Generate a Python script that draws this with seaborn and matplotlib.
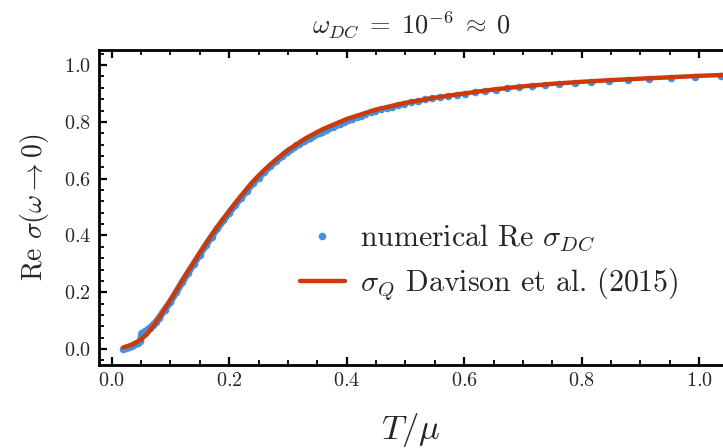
import numpy as np
import pandas as pd
import matplotlib
matplotlib.use("Agg")
import matplotlib.pyplot as plt
from matplotlib.lines import Line2D
from matplotlib.ticker import MultipleLocator, FormatStrFormatter
import seaborn as sns

# ---- data ----
# numerical points (dense low-T part)
T_dense = [0.020, 0.025, 0.030, 0.035, 0.040, 0.045, 0.049, 0.051, 0.055, 0.060,
           0.065, 0.070, 0.075, 0.080, 0.090, 0.100, 0.110, 0.120, 0.130, 0.140,
           0.150, 0.160, 0.170, 0.180, 0.190, 0.200, 0.210, 0.220, 0.230, 0.240,
           0.250, 0.260, 0.270, 0.280, 0.290, 0.298]
sig_dense = [0.000, 0.004, 0.008, 0.012, 0.017, 0.022, 0.028, 0.055, 0.060, 0.066,
             0.075, 0.084, 0.095, 0.108, 0.138, 0.167, 0.201, 0.235, 0.269, 0.301,
             0.333, 0.365, 0.396, 0.425, 0.453, 0.480, 0.507, 0.533, 0.558, 0.583,
             0.604, 0.625, 0.644, 0.662, 0.679, 0.693]
# numerical points (sparse high-T part)
T_sparse = [0.302, 0.306, 0.310, 0.314, 0.319, 0.323, 0.328, 0.332, 0.337, 0.342,
            0.348, 0.353, 0.358, 0.364, 0.370, 0.376, 0.382, 0.389, 0.395, 0.402,
            0.409, 0.417, 0.424, 0.432, 0.441, 0.449, 0.458, 0.468, 0.477, 0.487,
            0.498, 0.509, 0.521, 0.533, 0.545, 0.559, 0.572, 0.587, 0.602, 0.619,
            0.636, 0.654, 0.673, 0.693, 0.715, 0.738, 0.762, 0.788, 0.816, 0.846,
            0.879, 0.914, 0.952, 0.993, 1.037]
sig_sparse = [0.700, 0.706, 0.711, 0.717, 0.723, 0.728, 0.734, 0.739, 0.744, 0.750,
              0.756, 0.761, 0.766, 0.772, 0.777, 0.783, 0.788, 0.794, 0.799, 0.805,
              0.810, 0.816, 0.821, 0.827, 0.833, 0.838, 0.844, 0.849, 0.854, 0.859,
              0.864, 0.869, 0.874, 0.879, 0.883, 0.887, 0.891, 0.895, 0.899, 0.904,
              0.908, 0.913, 0.918, 0.922, 0.926, 0.930, 0.934, 0.937, 0.941, 0.944,
              0.948, 0.951, 0.955, 0.959, 0.963]
# sigma_Q curve (Davison et al. 2015)
T_curve = [0.020, 0.030, 0.040, 0.050, 0.060, 0.070, 0.080, 0.090, 0.100, 0.110,
           0.120, 0.130, 0.140, 0.150, 0.160, 0.170, 0.180, 0.190, 0.200, 0.210,
           0.220, 0.230, 0.240, 0.250, 0.260, 0.270, 0.280, 0.290, 0.300, 0.330,
           0.360, 0.400, 0.450, 0.500, 0.550, 0.600, 0.650, 0.700, 0.750, 0.800,
           0.850, 0.900, 0.950, 1.000, 1.040]
sig_curve = [0.006, 0.012, 0.021, 0.034, 0.052, 0.078, 0.108, 0.140, 0.172, 0.206,
             0.240, 0.273, 0.305, 0.338, 0.370, 0.400, 0.430, 0.458, 0.485, 0.512,
             0.538, 0.563, 0.588, 0.610, 0.630, 0.649, 0.667, 0.684, 0.700, 0.742,
             0.775, 0.810, 0.843, 0.867, 0.885, 0.900, 0.914, 0.925, 0.934, 0.941,
             0.947, 0.952, 0.957, 0.962, 0.965]

title_text = r"$\omega_{DC} \;=\; 10^{-6} \;\approx\; 0$"
xlabel_text = r"$T/\mu$"
ylabel_text = r"Re $\sigma(\omega \rightarrow 0)$"
label_num = r"numerical Re $\sigma_{DC}$"
label_curve = r"$\sigma_Q$ Davison et al. (2015)"

blue = "#4690e0"
red = "#cc3a0a"

sns.set_style("white")
plt.rcParams["font.family"] = ["cmr10", "DejaVu Serif"]
plt.rcParams["mathtext.fontset"] = "cm"
plt.rcParams["axes.unicode_minus"] = False

df_dense = pd.DataFrame({"T": T_dense, "sigma": sig_dense})
df_num = pd.DataFrame({"T": T_dense + T_sparse, "sigma": sig_dense + sig_sparse})
df_curve = pd.DataFrame({"T": T_curve, "sigma": sig_curve})

fig = plt.figure(figsize=(7.23, 4.48), dpi=100)
ax = fig.add_axes([99 / 723, 1 - 365 / 448, 1 - 99 / 723, (365 - 50) / 448])

# dense numerical points merge into a band
sns.lineplot(data=df_dense, x="T", y="sigma", ax=ax, color=blue, lw=5.0,
             sort=False, legend=False, solid_capstyle="round")
sns.scatterplot(data=df_num, x="T", y="sigma", ax=ax, color=blue, s=30,
                linewidth=0, legend=False, zorder=3)
sns.lineplot(data=df_curve, x="T", y="sigma", ax=ax, color=red, lw=3.2,
             sort=False, legend=False, zorder=4)

ax.set_xlim(-0.0216, 1.0405)
ax.set_ylim(-0.056, 1.053)

ax.xaxis.set_major_locator(MultipleLocator(0.2))
ax.xaxis.set_minor_locator(MultipleLocator(0.05))
ax.yaxis.set_major_locator(MultipleLocator(0.2))
ax.yaxis.set_minor_locator(MultipleLocator(0.04))
ax.xaxis.set_major_formatter(FormatStrFormatter("$%.1f$"))
ax.yaxis.set_major_formatter(FormatStrFormatter("$%.1f$"))

for side in ["left", "bottom", "top"]:
    ax.spines[side].set_visible(True)
    ax.spines[side].set_linewidth(2.0)
    ax.spines[side].set_color("black")
ax.spines["right"].set_visible(False)

ax.tick_params(axis="both", which="both", direction="in", color="black",
               top=True, bottom=True, left=True, right=False)
ax.tick_params(axis="both", which="major", length=6, width=1.6, labelsize=14.5)
ax.tick_params(axis="x", which="major", pad=5)
ax.tick_params(axis="y", which="major", pad=6)
ax.tick_params(axis="both", which="minor", length=3.5, width=1.3)

ax.set_xlabel(xlabel_text, fontsize=25, labelpad=15)
ax.set_ylabel(ylabel_text, fontsize=20, labelpad=9)
ax.set_title(title_text, fontsize=19, pad=12)

handles = [
    Line2D([], [], ls="none", marker="o", markersize=5.5, color=blue, markeredgewidth=0),
    Line2D([], [], color=red, lw=3.2),
]
ax.legend(handles, [label_num, label_curve], loc="center left",
          bbox_to_anchor=(0.322, 0.325), frameon=False, fontsize=21.5,
          handlelength=1.5, handletextpad=0.5, labelspacing=0.4, borderpad=0,
          borderaxespad=0)

fig.savefig("out.png", dpi=100)
